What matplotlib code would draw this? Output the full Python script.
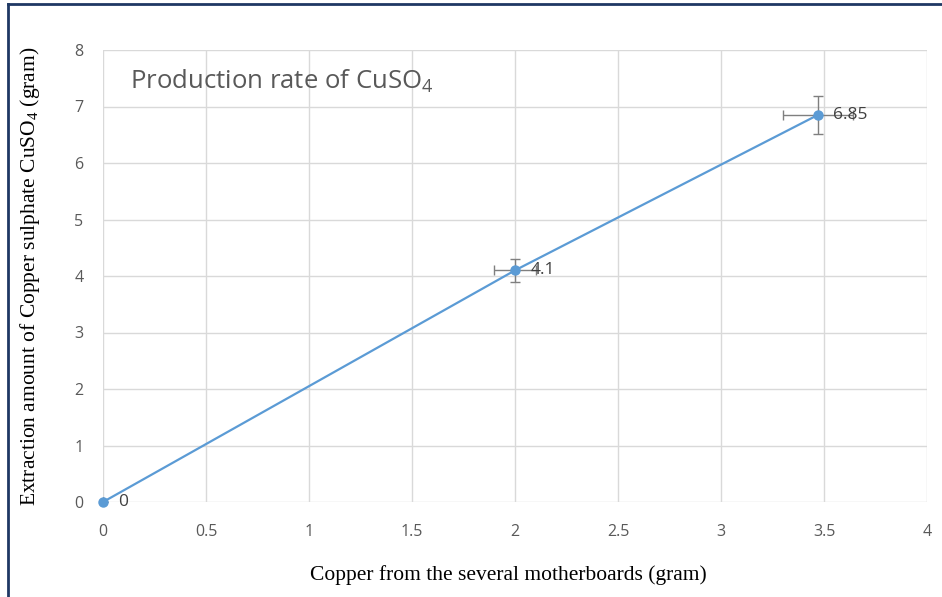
import matplotlib
matplotlib.use("Agg")
import matplotlib.pyplot as plt
from matplotlib.lines import Line2D

x_vals = [0, 2, 3.47]
y_vals = [0, 4.1, 6.85]
x_err = [0, 0.10, 0.17]
y_err = [0, 0.205, 0.34]
point_labels = ["0", "4.1", "6.85"]
x_ticks = [0, 0.5, 1, 1.5, 2, 2.5, 3, 3.5, 4]
x_tick_labels = ["0", "0.5", "1", "1.5", "2", "2.5", "3", "3.5", "4"]
y_ticks = [0, 1, 2, 3, 4, 5, 6, 7, 8]

plt.rcParams['mathtext.default'] = 'regular'

fig = plt.figure(figsize=(9.42, 5.97), dpi=100)
ax = fig.add_axes([103/942, 1-502/597, 824/942, 452/597])

blue = "#5b9bd5"
tick_col = "#595959"

ax.errorbar(x_vals, y_vals, xerr=x_err, yerr=y_err, fmt="none",
            ecolor="#7f7f7f", elinewidth=1, capsize=3.5, capthick=1, zorder=3)
ax.plot(x_vals, y_vals, color=blue, lw=1.6, marker="o", ms=6.5, zorder=4,
        clip_on=False)

for xv, yv, lab in zip(x_vals, y_vals, point_labels):
    ax.annotate(lab, (xv, yv), xytext=(11, 0), textcoords="offset points",
                ha="left", va="center", fontsize=12.5, color="#404040",
                family="Open Sans", zorder=5)

ax.set_xlim(0, 4)
ax.set_ylim(0, 8)
ax.set_xticks(x_ticks)
ax.set_xticklabels(x_tick_labels)
ax.set_yticks(y_ticks)
ax.grid(True, color="#d9d9d9", lw=1)
ax.set_axisbelow(True)
for s in ax.spines.values():
    s.set_visible(False)
ax.tick_params(axis="both", length=0, colors=tick_col, labelsize=11.5)
ax.tick_params(axis="x", pad=16)
ax.tick_params(axis="y", pad=14)
for lab in ax.get_xticklabels() + ax.get_yticklabels():
    lab.set_family("Open Sans")

ax.text(0.033, 0.93, "Production rate of CuSO$_4$", transform=ax.transAxes,
        fontsize=18.5, color=tick_col, family="Open Sans", va="center", ha="left")

fig.text(30/942, 1-276/597, "Extraction amount of Copper sulphate CuSO$_4$ (gram)",
         rotation=90, ha="center", va="center", fontsize=15.5,
         family="Liberation Serif", color="black")
fig.text(508/942, 1-575/597, "Copper from the several motherboards (gram)",
         ha="center", va="center", fontsize=15.5, family="Liberation Serif", color="black")

navy = "#1f3864"
fig.add_artist(Line2D([8/942, 8/942], [0, 1-4/597], color=navy, lw=2, transform=fig.transFigure))
fig.add_artist(Line2D([8/942, 1], [1-4/597, 1-4/597], color=navy, lw=2, transform=fig.transFigure))

fig.savefig("out.png", dpi=100)
